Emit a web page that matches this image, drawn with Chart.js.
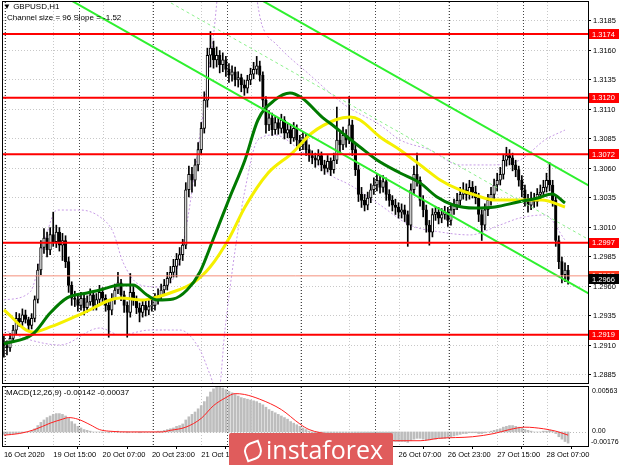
<!DOCTYPE html>
<html><head><meta charset="utf-8">
<script src="https://cdn.jsdelivr.net/npm/chart.js@4/dist/chart.umd.min.js"></script>
<style>
html,body{margin:0;padding:0;background:#fff;width:620px;height:465px;overflow:hidden;}
#wrap{position:relative;width:620px;height:465px;font-family:"Liberation Sans",Arial,sans-serif;}
canvas{position:absolute;left:0;}
#main{top:0;}
#macd{top:384px;}
.t{position:absolute;font-size:8px;color:#000;white-space:nowrap;line-height:9px;z-index:5;}
#wm{position:absolute;left:229px;top:433px;width:164px;height:32px;background:#e05c5c;border-radius:2px 2px 0 0;z-index:6;color:#fff;}
#wm span{position:absolute;left:37px;top:2px;font-size:25px;line-height:29px;font-family:"Open Sans","Liberation Sans",sans-serif;}
#wm i{position:absolute;left:15px;top:9px;width:14px;height:14px;border:2px solid #fff;border-radius:50% 0 50% 0;transform:rotate(-20deg);}
</style></head>
<body><div id="wrap">
<canvas id="main" width="620" height="385"></canvas>
<canvas id="macd" width="620" height="81"></canvas>
<div class="t" style="left:3px;top:2px;">▼ GBPUSD,H1</div>
<div class="t" style="left:7px;top:13px;">Channel size = 96 Slope = -1.52</div>
<div class="t" style="left:6px;top:388px;">MACD(12,26,9) -0.00142 -0.00037</div>
<div id="wm"><i></i><span>instaforex</span></div>
</div>
<script>
// ---- time axis ----
const xLabelIdx = [0,16,32,48,64,80,96,112,128,144,160,176];
const xLabelText = ['16 Oct 2020','19 Oct 15:00','20 Oct 07:00','20 Oct 23:00','21 Oct 15:00','22 Oct 07:00','22 Oct 23:00','23 Oct 15:00','26 Oct 07:00','26 Oct 23:00','27 Oct 15:00','28 Oct 07:00'];
const daySepIdx = [1,25,49,73,97,121,145,169];
const priceTicks = [1.3185,1.3160,1.3135,1.3110,1.3085,1.3060,1.3035,1.3010,1.2985,1.2960,1.2935,1.2910,1.2885];
const levels = [1.3174,1.3120,1.3072,1.2997,1.2919];
const markLevel = 1.2969;
const bidPrice = 1.2966;

// ---- GBPUSD H1 candles ----
const opens = [
1.2912,1.2910,1.2908,1.2916,1.2923,1.2933,1.2930,1.2936,1.2932,1.2927,
1.2933,1.2949,1.2974,1.2993,1.3001,1.2991,1.3004,1.2998,1.3006,1.2995,
1.2999,1.2981,1.2961,1.2950,1.2949,1.2944,1.2950,1.2942,1.2947,1.2953,
1.2944,1.2949,1.2955,1.2950,1.2944,1.2940,1.2949,1.2957,1.2963,1.2953,
1.2944,1.2938,1.2955,1.2949,1.2942,1.2938,1.2944,1.2940,1.2943,1.2944,
1.2949,1.2952,1.2957,1.2961,1.2967,1.2972,1.2977,1.2983,1.2987,1.2995,
1.3042,1.3055,1.3050,1.3063,1.3076,1.3094,1.3118,1.3156,1.3162,1.3152,
1.3156,1.3148,1.3152,1.3144,1.3139,1.3142,1.3135,1.3137,1.3131,1.3128,
1.3135,1.3140,1.3144,1.3147,1.3139,1.3118,1.3097,1.3103,1.3093,1.3099,
1.3094,1.3101,1.3090,1.3093,1.3086,1.3094,1.3084,1.3080,1.3086,1.3076,
1.3071,1.3069,1.3067,1.3071,1.3063,1.3060,1.3066,1.3059,1.3067,1.3084,
1.3080,1.3088,1.3084,1.3097,1.3076,1.3059,1.3038,1.3033,1.3029,1.3035,
1.3042,1.3046,1.3050,1.3044,1.3049,1.3038,1.3033,1.3029,1.3027,1.3023,
1.3025,1.3021,1.3012,1.3042,1.3055,1.3050,1.3033,1.3025,1.3012,1.3006,
1.3021,1.3023,1.3018,1.3021,1.3023,1.3016,1.3025,1.3029,1.3033,1.3038,
1.3042,1.3038,1.3044,1.3040,1.3035,1.3021,1.3012,1.3025,1.3033,1.3038,
1.3046,1.3050,1.3055,1.3067,1.3071,1.3069,1.3063,1.3059,1.3050,1.3042,
1.3033,1.3029,1.3035,1.3032,1.3038,1.3040,1.3044,1.3050,1.3046,1.3033,
1.2999,1.2981,1.2970,1.2974];
const highs = [
1.2918,1.2914,1.2920,1.2927,1.2938,1.2937,1.2941,1.2940,1.2934,1.2937,
1.2952,1.2979,1.2999,1.3009,1.3006,1.3010,1.3023,1.3012,1.3010,1.3005,
1.3003,1.2985,1.2964,1.2956,1.2953,1.2955,1.2954,1.2952,1.2958,1.2956,
1.2954,1.2961,1.2959,1.2953,1.2948,1.2954,1.2962,1.2972,1.2966,1.2956,
1.2947,1.2971,1.2960,1.2952,1.2946,1.2949,1.2948,1.2948,1.2950,1.2954,
1.2958,1.2962,1.2966,1.2972,1.2977,1.2983,1.2988,1.2993,1.3000,1.3048,
1.3062,1.3061,1.3068,1.3082,1.3099,1.3125,1.3162,1.3176,1.3168,1.3163,
1.3160,1.3158,1.3155,1.3149,1.3147,1.3146,1.3142,1.3140,1.3135,1.3139,
1.3145,1.3150,1.3155,1.3151,1.3142,1.3121,1.3109,1.3107,1.3104,1.3103,
1.3106,1.3104,1.3098,1.3097,1.3099,1.3097,1.3088,1.3091,1.3089,1.3080,
1.3075,1.3073,1.3076,1.3074,1.3067,1.3071,1.3069,1.3073,1.3112,1.3092,
1.3095,1.3093,1.3121,1.3101,1.3080,1.3063,1.3044,1.3038,1.3040,1.3047,
1.3052,1.3056,1.3054,1.3054,1.3052,1.3042,1.3037,1.3034,1.3031,1.3030,
1.3029,1.3024,1.3047,1.3062,1.3073,1.3053,1.3037,1.3029,1.3016,1.3026,
1.3028,1.3027,1.3026,1.3028,1.3027,1.3030,1.3034,1.3039,1.3044,1.3048,
1.3047,1.3050,1.3049,1.3045,1.3039,1.3025,1.3030,1.3038,1.3044,1.3051,
1.3056,1.3061,1.3072,1.3078,1.3076,1.3073,1.3067,1.3062,1.3054,1.3046,
1.3038,1.3040,1.3039,1.3043,1.3046,1.3050,1.3056,1.3065,1.3050,1.3037,
1.3003,1.2985,1.2980,1.2978];
const lows = [
1.2900,1.2902,1.2905,1.2913,1.2920,1.2926,1.2927,1.2929,1.2922,1.2924,
1.2930,1.2946,1.2970,1.2988,1.2985,1.2987,1.2994,1.2993,1.2990,1.2982,
1.2976,1.2955,1.2944,1.2943,1.2939,1.2940,1.2936,1.2938,1.2944,1.2940,
1.2940,1.2946,1.2945,1.2939,1.2917,1.2936,1.2945,1.2954,1.2948,1.2938,
1.2917,1.2934,1.2944,1.2937,1.2930,1.2934,1.2935,1.2936,1.2939,1.2940,
1.2945,1.2948,1.2953,1.2957,1.2963,1.2968,1.2968,1.2978,1.2982,1.2992,
1.3036,1.3040,1.3045,1.3058,1.3072,1.3090,1.3112,1.3146,1.3145,1.3146,
1.3141,1.3142,1.3138,1.3133,1.3134,1.3130,1.3129,1.3125,1.3122,1.3124,
1.3131,1.3136,1.3140,1.3134,1.3112,1.3090,1.3092,1.3088,1.3089,1.3089,
1.3090,1.3085,1.3086,1.3081,1.3083,1.3079,1.3075,1.3076,1.3071,1.3066,
1.3064,1.3061,1.3063,1.3058,1.3055,1.3057,1.3054,1.3056,1.3064,1.3074,
1.3076,1.3078,1.3081,1.3071,1.3054,1.3032,1.3027,1.3024,1.3025,1.3031,
1.3038,1.3041,1.3039,1.3040,1.3033,1.3028,1.3024,1.3021,1.3018,1.3018,
1.3015,1.2994,1.3008,1.3038,1.3045,1.3028,1.3019,1.3006,1.2995,1.3002,
1.3016,1.3013,1.3014,1.3017,1.3011,1.3012,1.3021,1.3025,1.3029,1.3034,
1.3033,1.3034,1.3035,1.3030,1.3015,1.2999,1.3008,1.3020,1.3029,1.3034,
1.3041,1.3046,1.3051,1.3062,1.3063,1.3058,1.3053,1.3045,1.3036,1.3028,
1.3023,1.3025,1.3027,1.3028,1.3034,1.3036,1.3040,1.3041,1.3028,1.2994,
1.2975,1.2963,1.2964,1.2962];
const closes = [
1.2910,1.2908,1.2916,1.2923,1.2933,1.2930,1.2936,1.2932,1.2927,1.2933,
1.2949,1.2974,1.2993,1.3001,1.2991,1.3004,1.2998,1.3006,1.2995,1.2999,
1.2981,1.2961,1.2950,1.2949,1.2944,1.2950,1.2942,1.2947,1.2953,1.2944,
1.2949,1.2955,1.2950,1.2944,1.2940,1.2949,1.2957,1.2963,1.2953,1.2944,
1.2938,1.2955,1.2949,1.2942,1.2938,1.2944,1.2940,1.2943,1.2944,1.2949,
1.2952,1.2957,1.2961,1.2967,1.2972,1.2977,1.2983,1.2987,1.2995,1.3042,
1.3055,1.3050,1.3063,1.3076,1.3094,1.3118,1.3156,1.3162,1.3152,1.3156,
1.3148,1.3152,1.3144,1.3139,1.3142,1.3135,1.3137,1.3131,1.3128,1.3135,
1.3140,1.3144,1.3147,1.3139,1.3118,1.3097,1.3103,1.3093,1.3099,1.3094,
1.3101,1.3090,1.3093,1.3086,1.3094,1.3084,1.3080,1.3086,1.3076,1.3071,
1.3069,1.3067,1.3071,1.3063,1.3060,1.3066,1.3059,1.3067,1.3084,1.3080,
1.3088,1.3084,1.3097,1.3076,1.3059,1.3038,1.3033,1.3029,1.3035,1.3042,
1.3046,1.3050,1.3044,1.3049,1.3038,1.3033,1.3029,1.3027,1.3023,1.3025,
1.3021,1.3012,1.3042,1.3055,1.3050,1.3033,1.3025,1.3012,1.3006,1.3021,
1.3023,1.3018,1.3021,1.3023,1.3016,1.3025,1.3029,1.3033,1.3038,1.3042,
1.3038,1.3044,1.3040,1.3035,1.3021,1.3012,1.3025,1.3033,1.3038,1.3046,
1.3050,1.3055,1.3067,1.3071,1.3069,1.3063,1.3059,1.3050,1.3042,1.3033,
1.3029,1.3035,1.3032,1.3038,1.3040,1.3044,1.3050,1.3046,1.3033,1.2999,
1.2981,1.2970,1.2974,1.2966];

// ---- moving averages (read at sample bars) ----
const maGreenIdx = [0,9.4,15,20.5,27,31.2,37.7,41.9,46.4,49.7,54.9,59.4,63.6,67.8,73.3,78.2,82.4,87.9,92.8,96.7,103.2,107.4,110.6,115.5,121,128.5,135,140.5,145.7,152.8,159.3,166.8,173.2,177.8,182];
const maGreenVal = [1.29113,1.29197,1.29375,1.29503,1.29545,1.29570,1.29613,1.29613,1.29528,1.29486,1.29494,1.29570,1.29723,1.29994,1.30358,1.30672,1.31011,1.31181,1.31240,1.31197,1.31036,1.30952,1.30884,1.30782,1.30672,1.30562,1.30477,1.30358,1.30291,1.30265,1.30274,1.30316,1.30350,1.30384,1.30308];
const maYellowIdx = [0,9.4,15,25.7,37.7,45.1,49.7,53.9,61.3,66.9,73.3,78.2,85.7,93.5,99.9,107.4,112.3,115.5,122,128.5,135.9,141.5,147.9,152.8,159.3,168,174.5,182];
const maYellowVal = [1.29401,1.29214,1.29257,1.29375,1.29503,1.29486,1.29511,1.29545,1.29630,1.29765,1.30020,1.30274,1.30562,1.30731,1.30901,1.31011,1.31036,1.31011,1.30867,1.30757,1.30613,1.30503,1.30418,1.30375,1.30333,1.30333,1.30333,1.30274];
const bandUpIdx = [0,8.5,13.3,17.2,24.7,31.2,35.4,38.6,44.2,50.6,55.5,58.7,62,65.2,67.8,70.7,79.8,83.7,88.6,99.3,110.6,122,128.5,138.2,147.9,157.7,167.4,175.5,182];
const bandUpVal = [1.29486,1.29553,1.29994,1.30248,1.30248,1.30189,1.30062,1.29808,1.29613,1.29596,1.29697,1.30037,1.30587,1.31181,1.31689,1.32282,1.32282,1.31816,1.31647,1.31392,1.31138,1.30969,1.30842,1.30757,1.30630,1.30630,1.30672,1.30842,1.30926];
const bandLoIdx = [0,8.5,18.2,31.2,37.7,47.4,57.1,63.6,66.9,69.5,71.7,75,78.2,82.4,87.9,96,105.8,112.3,122,131.7,141.5,151.2,160.9,167.4,175.5,182];
const bandLoVal = [1.29231,1.29147,1.29104,1.29248,1.29189,1.29231,1.29231,1.29062,1.28850,1.28681,1.29231,1.29909,1.30418,1.30842,1.30884,1.30757,1.30545,1.30460,1.30291,1.30121,1.30062,1.30037,1.30121,1.30181,1.30206,1.29994];

// ---- equidistant channel (bar index, price) ----
const channelUpper = [[0,1.33263],[190,1.30451]];
const channelMid = [[0,1.32805],[190,1.29993]];
const channelLower = [[0,1.32347],[190,1.29535]];

// ---- MACD(12,26,9) ----
const macdHist = [
-0.0003,-0.0003,-0.0003,-0.0002,-0.0002,-0.0001,-0.0001,0.0000,0.0000,0.0001,
0.0004,0.0008,0.0012,0.0015,0.0018,0.0020,0.0022,0.0023,0.0023,0.0022,
0.0020,0.0017,0.0013,0.0010,0.0007,0.0005,0.0003,0.0002,0.0001,0.0000,
0.0000,0.0000,-0.0001,0.0000,-0.0001,0.0000,0.0000,0.0001,0.0000,0.0000,
-0.0001,0.0000,0.0000,0.0000,-0.0001,0.0000,0.0000,0.0000,0.0000,0.0000,
0.0001,0.0001,0.0002,0.0003,0.0004,0.0005,0.0007,0.0008,0.0010,0.0015,
0.0019,0.0022,0.0025,0.0029,0.0033,0.0038,0.0044,0.0050,0.0054,0.0056,
0.0056,0.0055,0.0053,0.0051,0.0049,0.0047,0.0045,0.0043,0.0042,0.0041,
0.0040,0.0039,0.0038,0.0036,0.0034,0.0031,0.0028,0.0026,0.0024,0.0022,
0.0020,0.0018,0.0016,0.0013,0.0011,0.0009,0.0007,0.0005,0.0003,0.0001,
-0.0001,-0.0002,-0.0003,-0.0004,-0.0005,-0.0005,-0.0006,-0.0006,-0.0005,-0.0005,
-0.0004,-0.0004,-0.0003,-0.0004,-0.0006,-0.0008,-0.0010,-0.0011,-0.0012,-0.0012,
-0.0011,-0.0011,-0.0010,-0.0010,-0.0011,-0.0011,-0.0012,-0.0012,-0.0012,-0.0012,
-0.0012,-0.0013,-0.0011,-0.0009,-0.0008,-0.0008,-0.0009,-0.0010,-0.0010,-0.0009,
-0.0009,-0.0008,-0.0008,-0.0008,-0.0007,-0.0006,-0.0005,-0.0004,-0.0003,-0.0002,
-0.0002,-0.0001,-0.0001,-0.0001,-0.0002,-0.0002,-0.0001,0.0000,0.0001,0.0002,
0.0003,0.0004,0.0006,0.0007,0.0008,0.0008,0.0007,0.0006,0.0005,0.0003,
0.0002,0.0001,0.0000,0.0000,0.0000,0.0001,0.0001,0.0002,0.0001,-0.0002,
-0.0006,-0.0009,-0.0012,-0.0014];
const signalIdx = [0,5,10,15,19,21,24,28,31,34,41,51,54,59,64,68,72,75,78,83,90,96,99,106,115,127,135,141,152,159,164,169,175,179,183];
const signalVal = [-0.0004,-0.0002,0.0003,0.0011,0.0016,0.0018,0.0016,0.0009,0.0003,0.0001,0.0000,0.0000,0.0002,0.0006,0.0017,0.0033,0.0043,0.0048,0.0047,0.0041,0.0028,0.0010,0.0003,-0.0003,-0.0006,-0.0011,-0.0011,-0.0008,-0.0006,-0.0002,0.0003,0.0006,0.0004,0.0001,-0.0004];
const macdMax = 0.00563, macdMin = -0.00176;

// ---- geometry of the view ----
const X_MIN = -0.29, X_MAX = 189.46;
const P_MIN = 1.28782, P_MAX = 1.32011;
const FONT = '"Liberation Sans", Arial, sans-serif';

const idx = closes.map((_, i) => i);
const pts = (xs, ys) => xs.map((x, i) => ({x, y: ys[i]}));
const seg = (arr) => arr.map(p => ({x: p[0], y: p[1]}));
const hline = (v) => [{x: X_MIN - 5, y: v}, {x: X_MAX + 5, y: v}];
const lineDs = (data, color, width, extra) => Object.assign({type: 'line', data, borderColor: color, borderWidth: width, pointRadius: 0, fill: false, clip: 0}, extra || {});

const vgrid = {
  id: 'vgrid',
  beforeDatasetsDraw(chart) {
    const {ctx, chartArea: a, scales: {x}} = chart;
    ctx.save(); ctx.lineWidth = 1; ctx.setLineDash([1, 2]);
    xLabelIdx.forEach(i => {
      const px = Math.round(x.getPixelForValue(i)) + 0.5;
      ctx.strokeStyle = '#c8c8c8'; ctx.beginPath(); ctx.moveTo(px, a.top); ctx.lineTo(px, a.bottom); ctx.stroke();
    });
    daySepIdx.forEach(i => {
      const px = Math.round(x.getPixelForValue(i - 0.5)) + 0.5;
      ctx.strokeStyle = '#444'; ctx.beginPath(); ctx.moveTo(px, a.top); ctx.lineTo(px, a.bottom); ctx.stroke();
    });
    ctx.restore();
  }
};

const frameAndLabels = {
  id: 'levels',
  afterDraw(chart) {
    const {ctx, chartArea: a, scales: {y}} = chart;
    ctx.save();
    ctx.strokeStyle = '#000'; ctx.lineWidth = 1;
    ctx.strokeRect(a.left - 0.5, a.top - 0.5, a.right - a.left + 1, a.bottom - a.top + 1);
    ctx.font = '7.5px ' + FONT; ctx.textBaseline = 'middle';
    const box = (val, bg, fg) => {
      const py = y.getPixelForValue(val);
      ctx.fillStyle = bg; ctx.fillRect(a.right + 1, Math.round(py) - 5, 30, 10);
      ctx.fillStyle = fg; ctx.fillText(val.toFixed(4), a.right + 4, py + 0.5);
    };
    levels.forEach(v => box(v, '#ff0000', '#fff'));
    box(markLevel, '#ff3b1f', '#fff');
    box(bidPrice, '#000', '#fff');
    ctx.restore();
  }
};

new Chart(document.getElementById('main'), {
  type: 'bar',
  data: {
    datasets: [
      ...levels.map(v => lineDs(hline(v), '#ff0000', 2)),
      lineDs(hline(markLevel), '#f4907c', 1),
      lineDs(seg(channelUpper), '#2ef02e', 2),
      lineDs(seg(channelLower), '#2ef02e', 2),
      lineDs(seg(channelMid), '#8cf08c', 1, {borderDash: [3, 3]}),
      lineDs(pts(maGreenIdx, maGreenVal), '#007a00', 3, {cubicInterpolationMode: 'monotone'}),
      lineDs(pts(maYellowIdx, maYellowVal), '#f5f000', 3, {cubicInterpolationMode: 'monotone'}),
      {
        type: 'bar', grouped: false, barThickness: 2.6, minBarLength: 1,
        data: idx.map(i => ({x: i, y: [opens[i], closes[i]]})),
        backgroundColor: (c) => closes[c.dataIndex] >= opens[c.dataIndex] ? '#ffffff' : '#000000',
        borderColor: '#000', borderWidth: 1, borderSkipped: false
      },
      {
        type: 'bar', grouped: false, barThickness: 1,
        data: idx.map(i => ({x: i, y: [lows[i], highs[i]]})),
        backgroundColor: '#000', borderWidth: 0
      },
      lineDs(pts(bandUpIdx, bandUpVal), '#c79be6', 1, {borderDash: [2, 2], cubicInterpolationMode: 'monotone'}),
      lineDs(pts(bandLoIdx, bandLoVal), '#c79be6', 1, {borderDash: [2, 2], cubicInterpolationMode: 'monotone'})
    ]
  },
  options: {
    responsive: false, animation: false, events: [],
    layout: {padding: {left: 3, top: 2, right: 0, bottom: 2}},
    plugins: {legend: {display: false}, tooltip: {enabled: false}},
    scales: {
      x: {type: 'linear', min: X_MIN, max: X_MAX, display: false, offset: false},
      y: {
        type: 'linear', position: 'right', min: P_MIN, max: P_MAX,
        afterBuildTicks: s => { s.ticks = priceTicks.map(v => ({value: v})); },
        afterFit: s => { s.width = 32; s.paddingTop = 0; s.paddingBottom = 0; },
        ticks: {font: {family: FONT, size: 7.5}, color: '#000', padding: 2, callback: v => v.toFixed(4)},
        grid: {color: '#c8c8c8', lineWidth: 1, drawTicks: true, tickLength: 3, tickColor: '#000'},
        border: {display: true, color: '#000', dash: [1, 2]}
      }
    }
  },
  plugins: [vgrid, frameAndLabels]
});

const macdDeco = {
  id: 'macddeco',
  afterDraw(chart) {
    const {ctx, chartArea: a, scales: {y}} = chart;
    ctx.save();
    ctx.strokeStyle = '#000'; ctx.lineWidth = 1;
    ctx.strokeRect(a.left - 0.5, a.top - 0.5, a.right - a.left + 1, a.bottom - a.top + 1);
    ctx.font = '7px ' + FONT; ctx.fillStyle = '#000';
    ctx.textBaseline = 'top'; ctx.fillText(macdMax.toFixed(5), a.right + 4, y.getPixelForValue(macdMax) + 1);
    ctx.textBaseline = 'middle'; ctx.fillText('0.00', a.right + 4, y.getPixelForValue(0) - 1);
    ctx.textBaseline = 'bottom'; ctx.fillText(macdMin.toFixed(5), a.right + 3, y.getPixelForValue(macdMin));
    ctx.restore();
  },
  beforeDatasetsDraw(chart) {
    const {ctx, chartArea: a, scales: {x, y}} = chart;
    ctx.save(); ctx.lineWidth = 1; ctx.setLineDash([1, 2]);
    const z = Math.round(y.getPixelForValue(0)) + 0.5;
    ctx.strokeStyle = '#bbb'; ctx.beginPath(); ctx.moveTo(a.left, z); ctx.lineTo(a.right, z); ctx.stroke();
    xLabelIdx.forEach(i => {
      const px = Math.round(x.getPixelForValue(i)) + 0.5;
      ctx.strokeStyle = '#c8c8c8'; ctx.beginPath(); ctx.moveTo(px, a.top); ctx.lineTo(px, a.bottom); ctx.stroke();
    });
    daySepIdx.forEach(i => {
      const px = Math.round(x.getPixelForValue(i - 0.5)) + 0.5;
      ctx.strokeStyle = '#444'; ctx.beginPath(); ctx.moveTo(px, a.top); ctx.lineTo(px, a.bottom); ctx.stroke();
    });
    ctx.restore();
  }
};

new Chart(document.getElementById('macd'), {
  type: 'bar',
  data: {
    datasets: [
      lineDs(pts(signalIdx, signalVal), '#ff2020', 1, {cubicInterpolationMode: 'monotone'}),
      {type: 'bar', grouped: false, barThickness: 2, data: idx.map(i => ({x: i, y: macdHist[i]})), backgroundColor: '#bdbdbd', borderWidth: 0}
    ]
  },
  options: {
    responsive: false, animation: false, events: [],
    layout: {padding: {left: 3, top: 3, right: 0, bottom: 0}},
    plugins: {legend: {display: false}, tooltip: {enabled: false}},
    scales: {
      x: {
        type: 'linear', min: X_MIN, max: X_MAX, offset: false, position: 'bottom',
        afterBuildTicks: s => { s.ticks = xLabelIdx.map(v => ({value: v})); },
        afterFit: s => { s.height = 19; s.paddingLeft = 0; s.paddingRight = 0; },
        ticks: {autoSkip: false, maxRotation: 0, align: 'start', padding: 1, font: {family: FONT, size: 7.5}, color: '#000',
          callback: (v, i) => xLabelText[i]},
        grid: {drawOnChartArea: false, drawTicks: true, tickLength: 3, tickColor: '#000'},
        border: {display: false}
      },
      y: {
        type: 'linear', position: 'right', min: macdMin, max: macdMax,
        afterFit: s => { s.width = 32; s.paddingTop = 0; s.paddingBottom = 0; },
        ticks: {display: false}, grid: {display: false}, border: {display: false}
      }
    }
  },
  plugins: [macdDeco]
});
</script>
</body></html>
